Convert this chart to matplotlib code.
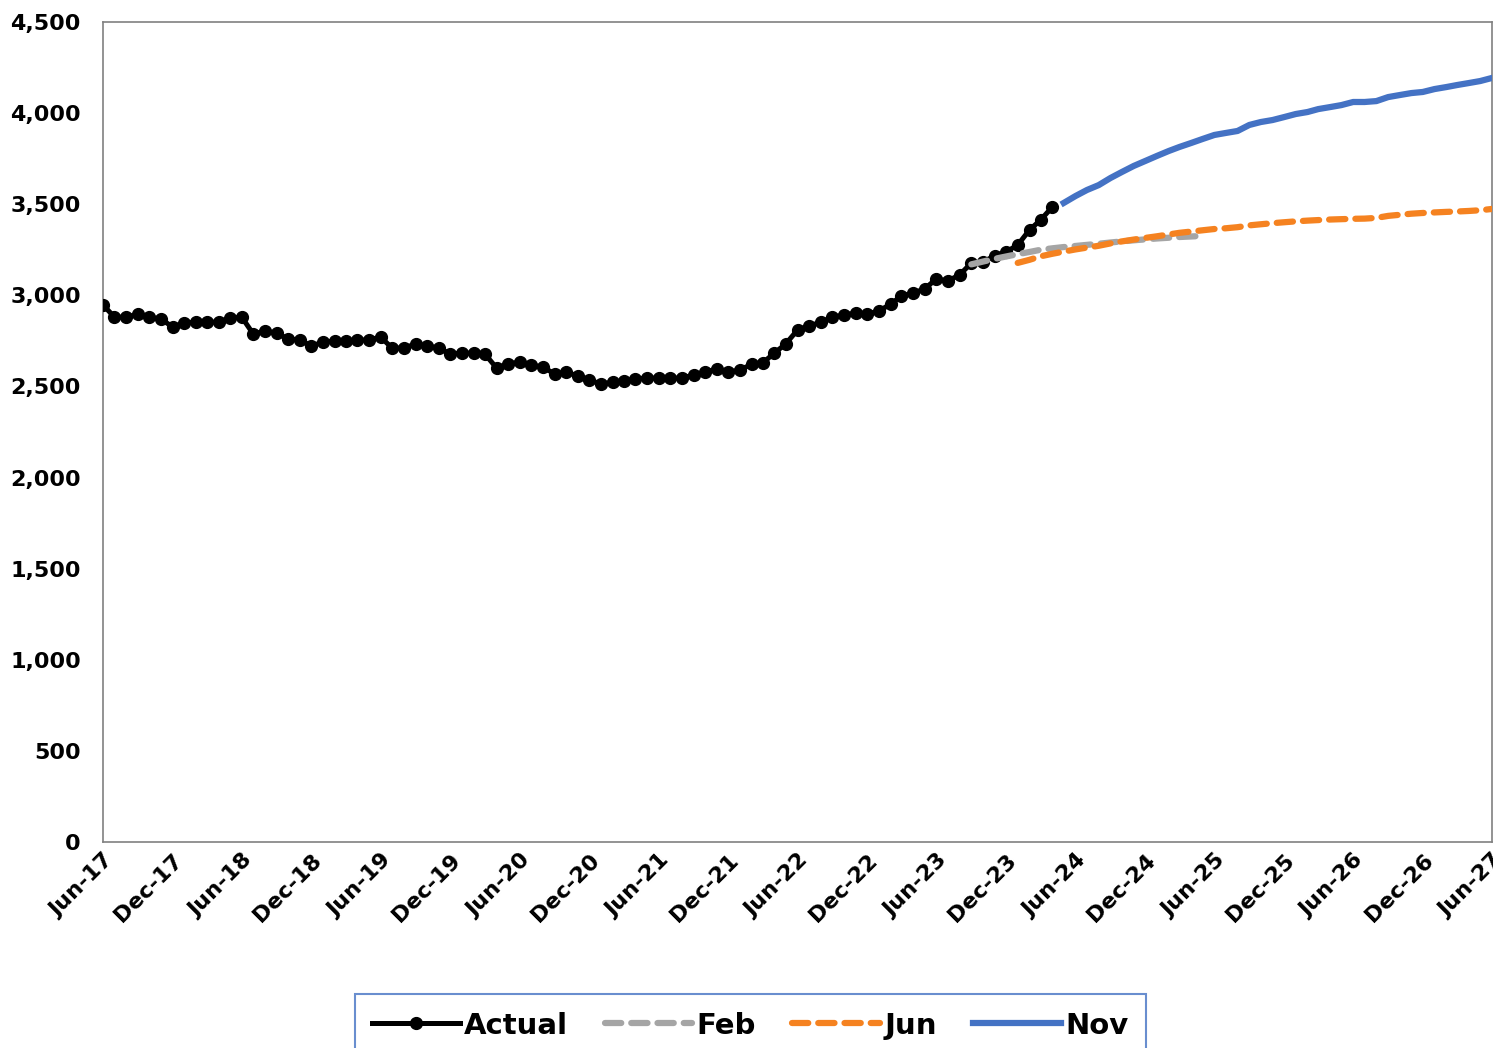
import matplotlib
matplotlib.use("Agg")
import matplotlib.pyplot as plt
import pandas as pd

# monthly series, first value = the start month
actual_start = "2017-06"
actual = [2947, 2881, 2880, 2897, 2880, 2870, 2826, 2848, 2853, 2853, 2853, 2875,
          2880, 2788, 2804, 2793, 2760, 2755, 2722, 2744, 2749, 2749, 2755, 2755,
          2771, 2711, 2711, 2733, 2722, 2711, 2678, 2683, 2683, 2678, 2601, 2623,
          2634, 2617, 2606, 2568, 2579, 2557, 2535, 2513, 2524, 2530, 2541, 2546,
          2546, 2546, 2546, 2563, 2579, 2596, 2579, 2590, 2623, 2628, 2683, 2733,
          2810, 2831, 2853, 2880, 2892, 2903, 2897, 2914, 2952, 2996, 3013, 3035,
          3090, 3079, 3112, 3177, 3183, 3216, 3238, 3276, 3359, 3413, 3485]

feb_start = "2023-09"
feb = [3170, 3185, 3200, 3213, 3226, 3238, 3250, 3258, 3265, 3271, 3277, 3283,
       3290, 3296, 3302, 3307, 3312, 3316, 3320, 3323, 3326]

jun_start = "2024-01"
jun = [3178, 3195, 3214, 3228, 3240, 3252, 3262, 3272, 3285, 3296, 3306, 3315,
       3324, 3334, 3343, 3350, 3357, 3364, 3368, 3374, 3384, 3390, 3396, 3401,
       3406, 3410, 3413, 3416, 3418, 3420, 3421, 3425, 3436, 3442, 3448, 3452,
       3455, 3458, 3460, 3463, 3467, 3474]

nov_start = "2024-05"
nov = [3507, 3545, 3578, 3605, 3644, 3677, 3710, 3737, 3765, 3792, 3814, 3836,
       3858, 3880, 3891, 3902, 3935, 3951, 3962, 3978, 3995, 4006, 4022, 4033,
       4044, 4061, 4061, 4066, 4088, 4099, 4110, 4116, 4132, 4143, 4154, 4165,
       4176, 4193]

tick_dates = pd.date_range("2017-06-01", "2027-06-01", freq="6MS")
tick_labels = [d.strftime("%b-%y") for d in tick_dates]


def months(start, n):
    return pd.date_range(start + "-01", periods=n, freq="MS")


fig = plt.figure(figsize=(14.93, 10.48), dpi=100)
ax = fig.add_axes([103 / 1493, 1 - 842 / 1048, (1492 - 103) / 1493, (842 - 22) / 1048])

ax.plot(months(actual_start, len(actual)), actual, color="black", lw=3.6,
        marker="o", ms=8.5, label="Actual", zorder=4)
ax.plot(months(feb_start, len(feb)), feb, color="#A5A5A5", lw=4.5,
        dashes=(2.6, 1.6), dash_capstyle="round", label="Feb", zorder=5)
ax.plot(months(jun_start, len(jun)), jun, color="#F58220", lw=4.5,
        dashes=(2.6, 1.6), dash_capstyle="round", label="Jun", zorder=5)
ax.plot(months(nov_start, len(nov)), nov, color="#4472C4", lw=4.5,
        label="Nov", zorder=3)

ax.set_xlim(tick_dates[0], tick_dates[-1])
ax.set_ylim(0, 4500)
ax.set_yticks(range(0, 4501, 500))
ax.set_yticklabels([f"{v:,}" for v in range(0, 4501, 500)],
                   fontsize=16, fontweight="bold")
ax.set_xticks(tick_dates)
ax.set_xticklabels(tick_labels, rotation=45, ha="right", rotation_mode="anchor",
                   fontsize=16, fontweight="bold")
ax.tick_params(axis="y", length=0, pad=16)
ax.tick_params(axis="x", length=0, pad=6)
for s in ax.spines.values():
    s.set_color("#808080")
    s.set_linewidth(1.2)

leg = fig.legend(loc="upper center", bbox_to_anchor=(0.5025, 0.0515), ncol=4,
                 frameon=True, fancybox=False, handlelength=3.0,
                 columnspacing=1.25, handletextpad=0.15, borderaxespad=0,
                 prop={"size": 21, "weight": "bold"}, borderpad=0.6)
leg.get_frame().set_edgecolor("#4472C4")
leg.get_frame().set_linewidth(1.5)

fig.savefig("out.png", dpi=100)
